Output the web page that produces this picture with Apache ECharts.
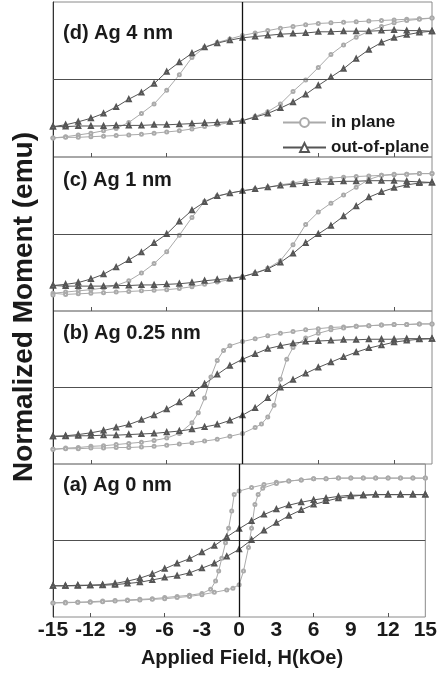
<!DOCTYPE html>
<html>
<head>
<meta charset="utf-8">
<script src="https://cdn.jsdelivr.net/npm/echarts@6/dist/echarts.min.js"></script>
<style>
  html, body { margin: 0; padding: 0; background: #fff; }
  #chart { width: 440px; height: 675px; }
</style>
</head>
<body>
<div id="chart"></div>
<script>
// Field axis (kOe)
const fieldTicks = [-15, -12, -9, -6, -3, 0, 3, 6, 9, 12, 15];
const innerTicks = [-12, -6, 6, 12];
const panelLabels = ['(d) Ag 4 nm', '(c) Ag 1 nm', '(b) Ag 0.25 nm', '(a) Ag 0 nm'];
const seriesNames = ['in plane', 'out-of-plane'];

// (d) Ag 4 nm — [H (kOe), normalized moment]
const dInUp = [[15,1.03],[14,1.02],[13,1.01],[12,1.00],[11,0.99],[10,0.98],[9,0.97],[8,0.96],[7,0.95],[6,0.94],[5,0.92],[4,0.89],[3,0.86],[2,0.82],[1,0.78],[0,0.74],[-1,0.68],[-2,0.62],[-3,0.54],[-4,0.37],[-5,0.08],[-6,-0.18],[-7,-0.41],[-8,-0.57],[-9,-0.72],[-10,-0.82],[-11,-0.86],[-12,-0.90],[-13,-0.93],[-14,-0.96],[-15,-0.98]];
const dInDown = [[-15,-0.98],[-14,-0.97],[-13,-0.97],[-12,-0.96],[-11,-0.95],[-10,-0.94],[-9,-0.93],[-8,-0.92],[-7,-0.90],[-6,-0.88],[-5,-0.86],[-4,-0.83],[-3,-0.79],[-2,-0.76],[-1,-0.72],[0,-0.69],[1,-0.62],[2,-0.54],[3,-0.41],[4,-0.20],[5,-0.01],[6,0.20],[7,0.42],[8,0.58],[9,0.71],[10,0.81],[11,0.89],[12,0.95],[13,0.99],[14,1.01],[15,1.03]];
const dOutUp = [[15,0.81],[14,0.82],[13,0.82],[12,0.83],[11,0.82],[10,0.81],[9,0.81],[8,0.81],[7,0.80],[6,0.80],[5,0.78],[4,0.77],[3,0.76],[2,0.74],[1,0.72],[0,0.70],[-1,0.66],[-2,0.61],[-3,0.54],[-4,0.44],[-5,0.29],[-6,0.13],[-7,-0.07],[-8,-0.22],[-9,-0.33],[-10,-0.46],[-11,-0.57],[-12,-0.65],[-13,-0.71],[-14,-0.76],[-15,-0.79]];
const dOutDown = [[-15,-0.79],[-14,-0.79],[-13,-0.78],[-12,-0.78],[-11,-0.78],[-10,-0.77],[-9,-0.77],[-8,-0.77],[-7,-0.76],[-6,-0.76],[-5,-0.75],[-4,-0.74],[-3,-0.73],[-2,-0.72],[-1,-0.71],[0,-0.69],[1,-0.63],[2,-0.57],[3,-0.48],[4,-0.38],[5,-0.25],[6,-0.10],[7,0.04],[8,0.18],[9,0.35],[10,0.50],[11,0.62],[12,0.70],[13,0.75],[14,0.79],[15,0.81]];

// (c) Ag 1 nm
const cInUp = [[15,1.02],[14,1.02],[13,1.01],[12,1.00],[11,0.99],[10,0.98],[9,0.97],[8,0.96],[7,0.94],[6,0.92],[5,0.90],[4,0.86],[3,0.83],[2,0.79],[1,0.76],[0,0.73],[-1,0.69],[-2,0.64],[-3,0.55],[-4,0.28],[-5,-0.02],[-6,-0.30],[-7,-0.50],[-8,-0.66],[-9,-0.79],[-10,-0.87],[-11,-0.91],[-12,-0.94],[-13,-0.96],[-14,-0.98],[-15,-1.00]];
const cInDown = [[-15,-1.03],[-14,-1.02],[-13,-1.01],[-12,-1.00],[-11,-0.99],[-10,-0.98],[-9,-0.97],[-8,-0.96],[-7,-0.95],[-6,-0.94],[-5,-0.92],[-4,-0.89],[-3,-0.85],[-2,-0.81],[-1,-0.77],[0,-0.72],[1,-0.66],[2,-0.58],[3,-0.45],[4,-0.18],[5,0.16],[6,0.37],[7,0.52],[8,0.66],[9,0.79],[10,0.92],[11,0.99],[12,1.01],[13,1.01],[14,1.02],[15,1.02]];
const cOutUp = [[15,0.87],[14,0.88],[13,0.89],[12,0.90],[11,0.90],[10,0.90],[9,0.89],[8,0.89],[7,0.88],[6,0.88],[5,0.86],[4,0.84],[3,0.82],[2,0.79],[1,0.76],[0,0.73],[-1,0.69],[-2,0.64],[-3,0.54],[-4,0.40],[-5,0.21],[-6,0.00],[-7,-0.15],[-8,-0.31],[-9,-0.44],[-10,-0.56],[-11,-0.68],[-12,-0.76],[-13,-0.82],[-14,-0.85],[-15,-0.87]];
const cOutDown = [[-15,-0.87],[-14,-0.88],[-13,-0.88],[-12,-0.88],[-11,-0.88],[-10,-0.87],[-9,-0.87],[-8,-0.86],[-7,-0.86],[-6,-0.85],[-5,-0.84],[-4,-0.82],[-3,-0.79],[-2,-0.77],[-1,-0.75],[0,-0.72],[1,-0.66],[2,-0.59],[3,-0.48],[4,-0.33],[5,-0.15],[6,0.00],[7,0.14],[8,0.30],[9,0.47],[10,0.62],[11,0.71],[12,0.78],[13,0.83],[14,0.86],[15,0.87]];

// (b) Ag 0.25 nm
const bInUp = [[15,1.08],[14,1.08],[13,1.07],[12,1.07],[11,1.06],[10,1.05],[9,1.04],[8,1.03],[7,1.02],[6,1.00],[5,0.98],[4,0.95],[3,0.92],[2,0.88],[1,0.83],[0,0.78],[-1,0.71],[-1.5,0.63],[-2,0.46],[-2.5,0.18],[-3,-0.18],[-3.5,-0.43],[-4,-0.60],[-5,-0.78],[-6,-0.86],[-7,-0.90],[-8,-0.93],[-9,-0.95],[-10,-0.97],[-11,-0.99],[-12,-1.00],[-13,-1.02],[-14,-1.03],[-15,-1.05]];
const bInDown = [[-15,-1.05],[-14,-1.04],[-13,-1.04],[-12,-1.03],[-11,-1.03],[-10,-1.02],[-9,-1.02],[-8,-1.01],[-7,-1.00],[-6,-0.98],[-5,-0.96],[-4,-0.94],[-3,-0.91],[-2,-0.88],[-1,-0.83],[0,-0.78],[1,-0.68],[1.5,-0.62],[2,-0.50],[2.5,-0.30],[3,0.14],[3.5,0.48],[4,0.68],[5,0.84],[6,0.92],[7,0.98],[8,1.01],[9,1.04],[10,1.05],[11,1.06],[12,1.07],[13,1.07],[14,1.08],[15,1.08]];
const bOutUp = [[15,0.83],[14,0.83],[13,0.83],[12,0.82],[11,0.82],[10,0.82],[9,0.81],[8,0.81],[7,0.80],[6,0.79],[5,0.78],[4,0.75],[3,0.71],[2,0.66],[1,0.57],[0,0.48],[-1,0.37],[-2,0.22],[-3,0.06],[-4,-0.10],[-5,-0.25],[-6,-0.37],[-7,-0.47],[-8,-0.55],[-9,-0.63],[-10,-0.68],[-11,-0.73],[-12,-0.77],[-13,-0.80],[-14,-0.82],[-15,-0.83]];
const bOutDown = [[-15,-0.83],[-14,-0.83],[-13,-0.82],[-12,-0.82],[-11,-0.81],[-10,-0.81],[-9,-0.80],[-8,-0.79],[-7,-0.78],[-6,-0.76],[-5,-0.74],[-4,-0.71],[-3,-0.67],[-2,-0.63],[-1,-0.56],[0,-0.47],[1,-0.35],[2,-0.18],[3,0.00],[4,0.13],[5,0.24],[6,0.34],[7,0.43],[8,0.52],[9,0.60],[10,0.67],[11,0.72],[12,0.77],[13,0.80],[14,0.82],[15,0.83]];

// (a) Ag 0 nm
const aInUp = [[15,1.06],[14,1.06],[13,1.06],[12,1.06],[11,1.06],[10,1.06],[9,1.06],[8,1.06],[7,1.05],[6,1.05],[5,1.03],[4,1.01],[3,0.99],[2,0.95],[1,0.90],[0,0.84],[-0.4,0.78],[-0.6,0.50],[-0.85,0.21],[-1.1,-0.04],[-1.4,-0.30],[-1.65,-0.52],[-1.9,-0.69],[-2.3,-0.83],[-3,-0.90],[-4,-0.93],[-5,-0.95],[-6,-0.97],[-7,-0.99],[-8,-1.00],[-9,-1.01],[-10,-1.02],[-11,-1.03],[-12,-1.04],[-13,-1.05],[-14,-1.05],[-15,-1.06]];
const aInDown = [[-15,-1.06],[-14,-1.06],[-13,-1.05],[-12,-1.05],[-11,-1.04],[-10,-1.03],[-9,-1.02],[-8,-1.01],[-7,-1.00],[-6,-0.99],[-5,-0.97],[-4,-0.95],[-3,-0.92],[-2,-0.88],[-1,-0.84],[-0.5,-0.81],[0,-0.75],[0.35,-0.52],[0.75,-0.12],[1.0,0.21],[1.27,0.61],[1.53,0.78],[1.9,0.89],[3,0.97],[4,1.01],[5,1.03],[6,1.05],[7,1.05],[8,1.06],[9,1.06],[10,1.06],[11,1.06],[12,1.06],[13,1.06],[14,1.06],[15,1.06]];
const aOutUp = [[15,0.78],[14,0.78],[13,0.78],[12,0.78],[11,0.78],[10,0.77],[9,0.77],[8,0.75],[7,0.72],[6,0.69],[5,0.65],[4,0.60],[3,0.53],[2,0.44],[1,0.33],[0,0.20],[-1,0.06],[-2,-0.09],[-3,-0.20],[-4,-0.31],[-5,-0.39],[-6,-0.48],[-7,-0.57],[-8,-0.64],[-9,-0.69],[-10,-0.73],[-11,-0.75],[-12,-0.76],[-13,-0.76],[-14,-0.77],[-15,-0.77]];
const aOutDown = [[-15,-0.77],[-14,-0.77],[-13,-0.77],[-12,-0.76],[-11,-0.76],[-10,-0.75],[-9,-0.73],[-8,-0.71],[-7,-0.67],[-6,-0.63],[-5,-0.60],[-4,-0.55],[-3,-0.47],[-2,-0.39],[-1,-0.27],[0,-0.15],[1,0.01],[2,0.17],[3,0.30],[4,0.42],[5,0.52],[6,0.61],[7,0.67],[8,0.72],[9,0.75],[10,0.77],[11,0.78],[12,0.78],[13,0.78],[14,0.78],[15,0.78]];

const loops = [
  { inPlane: dInUp.concat(dInDown), outPlane: dOutUp.concat(dOutDown) },
  { inPlane: cInUp.concat(cInDown), outPlane: cOutUp.concat(cOutDown) },
  { inPlane: bInUp.concat(bInDown), outPlane: bOutUp.concat(bOutDown) },
  { inPlane: aInUp.concat(aInDown), outPlane: aOutUp.concat(aOutDown) }
];

// Stacked panel geometry (pixels)
const FONT = '"Liberation Sans", Arial, Helvetica, sans-serif';
const plotLeft = 53, plotRight = 8;
const panelTops = [2, 157, 311, 464];
const panelHeights = [155, 154, 153, 153];
const labelOffsets = [31, 23, 22, 21];

const grids = [], xAxes = [], yAxes = [], series = [], graphics = [];

panelTops.forEach(function (top, i) {
  const isBottom = i === panelTops.length - 1;
  grids.push({
    left: plotLeft, right: plotRight, top: top, height: panelHeights[i],
    show: true, borderColor: '#8a8a8a', borderWidth: 1, backgroundColor: 'transparent'
  });
  xAxes.push({
    type: 'value', gridIndex: i, min: -15, max: 15, interval: 3,
    axisLine: { show: false, onZero: false },
    splitLine: { show: false },
    axisTick: { show: true, inside: true, length: 4, customValues: innerTicks,
                lineStyle: { color: '#555', width: 1 } },
    axisLabel: isBottom ? {
      show: true, customValues: fieldTicks, margin: 3,
      fontSize: 21, fontWeight: 'bold', color: '#1a1a1a', fontFamily: FONT
    } : { show: false }
  });
  yAxes.push({
    type: 'value', gridIndex: i, min: -1.3, max: 1.3,
    axisLine: { show: true, onZero: false, lineStyle: { color: '#333', width: 1 } },
    axisTick: { show: false }, axisLabel: { show: false }, splitLine: { show: false }
  });
  series.push({
    type: 'line', name: seriesNames[0], xAxisIndex: i, yAxisIndex: i,
    data: loops[i].inPlane,
    symbol: 'emptyCircle', symbolSize: 3,
    lineStyle: { color: '#aaaaaa', width: 1 },
    itemStyle: { color: '#aaaaaa', borderWidth: 1 },
    markLine: {
      silent: true, symbol: ['none', 'none'], label: { show: false },
      data: [
        { yAxis: 0, lineStyle: { color: '#505050', width: 1, type: 'solid' } },
        { xAxis: 0, lineStyle: { color: '#111', width: 1.3, type: 'solid' } }
      ]
    }
  });
  series.push({
    type: 'line', name: seriesNames[1], xAxisIndex: i, yAxisIndex: i,
    data: loops[i].outPlane,
    symbol: 'emptyTriangle', symbolSize: 4,
    lineStyle: { color: '#555555', width: 1 },
    itemStyle: { color: '#555555', borderWidth: 1 }
  });
  graphics.push({
    type: 'text', x: 63, y: top + labelOffsets[i],
    style: { text: panelLabels[i], font: 'bold 20px ' + FONT, fill: '#1a1a1a',
             align: 'left', verticalAlign: 'middle' }
  });
});

graphics.push({
  type: 'text', x: 24, y: 307, rotation: Math.PI / 2,
  style: { text: 'Normalized Moment (emu)', font: 'bold 28px ' + FONT, fill: '#1a1a1a',
           align: 'center', verticalAlign: 'middle' }
});
graphics.push({
  type: 'text', x: 242, y: 658,
  style: { text: 'Applied Field, H(kOe)', font: 'bold 20px ' + FONT, fill: '#1a1a1a',
           align: 'center', verticalAlign: 'middle' }
});

const chart = echarts.init(document.getElementById('chart'), null, { renderer: 'canvas' });
chart.setOption({
  animation: false,
  backgroundColor: '#fff',
  grid: grids,
  xAxis: xAxes,
  yAxis: yAxes,
  legend: {
    data: seriesNames, orient: 'vertical', left: 277, top: 109,
    itemWidth: 43, itemHeight: 11, itemGap: 8,
    textStyle: { fontSize: 17, fontWeight: 'bold', color: '#1a1a1a', fontFamily: FONT }
  },
  series: series,
  graphic: graphics
});
</script>
</body>
</html>
